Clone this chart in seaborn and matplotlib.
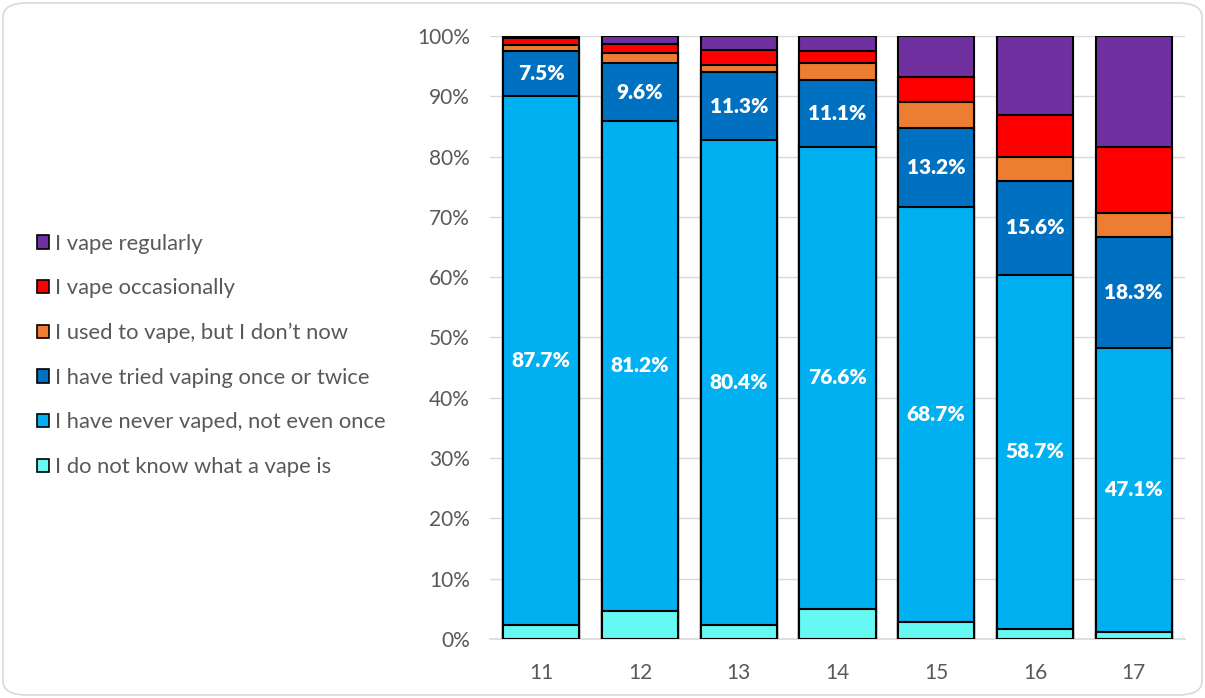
import matplotlib
matplotlib.use("Agg")
import matplotlib.pyplot as plt
import seaborn as sns
import numpy as np
import pandas as pd
from matplotlib.patches import Patch, FancyBboxPatch

ages = ["11", "12", "13", "14", "15", "16", "17"]
dont_know = [2.3, 4.7, 2.3, 5.0, 2.9, 1.7, 1.2]
never = [87.7, 81.2, 80.4, 76.6, 68.7, 58.7, 47.1]
tried = [7.5, 9.6, 11.3, 11.1, 13.2, 15.6, 18.3]
used_to = [1.0, 1.7, 1.2, 2.8, 4.3, 3.9, 4.0]
occasionally = [1.1, 1.5, 2.4, 2.0, 4.1, 7.0, 11.0]
regularly = [0.4, 1.3, 2.4, 2.5, 6.8, 13.1, 18.4]

series_names = ["I do not know what a vape is", "I have never vaped, not even once",
                "I have tried vaping once or twice", "I used to vape, but I don\u2019t now",
                "I vape occasionally", "I vape regularly"]
series_vals = [dont_know, never, tried, used_to, occasionally, regularly]
colors = ["#66F8F2", "#00B0F0", "#0070C0", "#ED7D31", "#FF0000", "#7030A0"]

sns.set_theme(style="white")
plt.rcParams['font.family'] = ['Lato', 'DejaVu Sans']

fig = plt.figure(figsize=(12.05, 6.98), dpi=100)
ax = fig.add_axes([490/1205, 1-639/698, 695/1205, (639-36)/698])

vals = np.array(series_vals)
cum = np.cumsum(vals, axis=0)
cum = cum / cum[-1] * 100

# draw from top layer down so lower segments overlay
for i in range(len(series_names) - 1, -1, -1):
    df = pd.DataFrame({"age": ages, "v": cum[i]})
    sns.barplot(data=df, x="age", y="v", color=colors[i], edgecolor="black",
                linewidth=1.5, width=0.77, saturation=1, ax=ax, zorder=3)

# labels for never and tried
for j in range(len(ages)):
    for i in (1, 2):
        bottom = cum[i-1][j]
        top = cum[i][j]
        ax.text(j, (bottom + top) / 2, f"{series_vals[i][j]:.1f}%", ha="center", va="center",
                color="white", fontweight="heavy", fontsize=15, zorder=5)

ax.set_ylim(0, 100)
ax.set_xlim(-0.52, 6.52)
ax.set_yticks(np.arange(0, 101, 10))
ax.set_yticklabels([f"{v}%" for v in range(0, 101, 10)])
ax.yaxis.grid(True, color="#D9D9D9", linewidth=1)
ax.set_axisbelow(True)
for s in ["top", "right", "left"]:
    ax.spines[s].set_visible(False)
ax.spines["bottom"].set_color("#D9D9D9")
ax.spines["bottom"].set_linewidth(1.2)
ax.tick_params(axis="both", length=0, labelsize=15, colors="#595959")
ax.tick_params(axis="y", pad=14.5)
ax.tick_params(axis="x", pad=17)
ax.set_xlabel("")
ax.set_ylabel("")

handles = [Patch(facecolor=colors[i], edgecolor="black", linewidth=1.2, label=series_names[i])
           for i in range(len(series_names) - 1, -1, -1)]
fig.legend(handles=handles, loc="upper left", bbox_to_anchor=(17/1205, 1-214/698),
           frameon=False, fontsize=15.8, handlelength=0.55, handleheight=0.55,
           handletextpad=0.3, labelspacing=1.12, labelcolor="#595959")

border = FancyBboxPatch((3/1205, 3/698), 1 - 6/1205, 1 - 6/698,
                        boxstyle="round,pad=0,rounding_size=0.02",
                        transform=fig.transFigure, facecolor="none",
                        edgecolor="#D9D9D9", linewidth=1.2)
fig.patches.append(border)

fig.savefig("out.png", dpi=100)
